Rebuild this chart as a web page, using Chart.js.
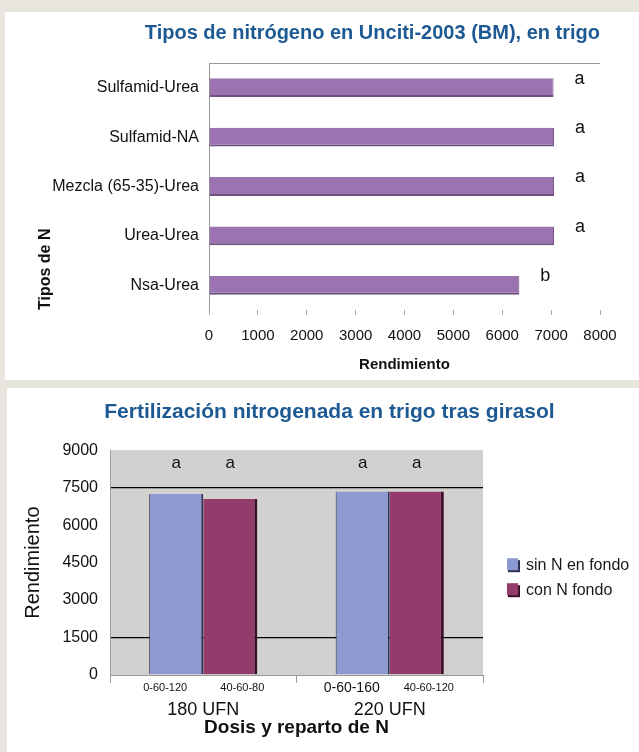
<!DOCTYPE html>
<html>
<head>
<meta charset="utf-8">
<script src="https://cdn.jsdelivr.net/npm/chart.js@4.4.0/dist/chart.umd.min.js"></script>
<style>
body{margin:0;background:#e8e5de;width:639px;height:752px;position:relative;overflow:hidden}
.panel{position:absolute;background:#fff}
#p1{left:5px;top:12px;width:634px;height:368px}
#p2{left:7px;top:388px;width:632px;height:364px}
#c1{position:absolute;left:5px;top:12px}
#c2{position:absolute;left:20px;top:388px}
</style>
</head>
<body>
<div class="panel" id="p1"></div>
<div class="panel" id="p2"></div>
<canvas id="c1" width="634" height="368"></canvas>
<canvas id="c2" width="619" height="364"></canvas>
<script>
// datos grafico 1
let tipos = ['Sulfamid-Urea', 'Sulfamid-NA', 'Mezcla (65-35)-Urea', 'Urea-Urea', 'Nsa-Urea'];
let rendTipos = [7050, 7060, 7060, 7060, 6350];
let letrasTipos = ['a', 'a', 'a', 'a', 'b'];

// datos grafico 2
let dosis = ['180 UFN', '220 UFN'];
let repartoSin = ['0-60-120', '0-60-160'];
let repartoCon = ['40-60-80', '40-60-120'];
let sinFondo = [7250, 7350];
let conFondo = [7050, 7350];
let letrasSin = ['a', 'a'];
let letrasCon = ['a', 'a'];

let fuente = '"Liberation Sans", Arial, sans-serif';
Chart.defaults.font.family = fuente;
Chart.defaults.color = '#1a1a1a';

// linea gris arriba del area
const lineaSup = {
    id: 'lineaSup',
    afterDraw(c) {
        let a = c.chartArea, ctx = c.ctx;
        ctx.save();
        ctx.strokeStyle = '#9a9a9a';
        ctx.lineWidth = 1;
        ctx.beginPath();
        ctx.moveTo(a.left, a.top + 0.5);
        ctx.lineTo(a.right, a.top + 0.5);
        ctx.stroke();
        ctx.restore();
    }
};

const letras1 = {
    id: 'letras1',
    afterDatasetsDraw(c) {
        let ctx = c.ctx;
        ctx.save();
        ctx.font = '18px ' + fuente;
        ctx.fillStyle = '#111';
        ctx.textAlign = 'center';
        ctx.textBaseline = 'middle';
        c.getDatasetMeta(0).data.forEach((el, i) => {
            ctx.fillText(letrasTipos[i], el.x + 26, el.y - 9);
        });
        ctx.restore();
    }
};

new Chart(document.getElementById('c1'), {
    type: 'bar',
    data: {
        labels: tipos,
        datasets: [{
            label: 'Rendimiento',
            data: rendTipos,
            backgroundColor: '#9b73b1',
            borderColor: '#6d4f80',
            borderWidth: {top: 0, right: 1, bottom: 2, left: 0},
            barPercentage: 0.38,
            categoryPercentage: 1
        }]
    },
    options: {
        indexAxis: 'y',
        responsive: false,
        animation: false,
        layout: {padding: {left: 0, right: 39, top: 0, bottom: 0}},
        plugins: {
            legend: {display: false},
            tooltip: {enabled: false},
            title: {
                display: true,
                text: 'Tipos de nitrógeno en Unciti-2003 (BM), en trigo',
                align: 'end',
                color: '#1d5a94',
                font: {size: 20, weight: 'bold'},
                padding: {top: 9, bottom: 18}
            }
        },
        scales: {
            x: {
                min: 0,
                max: 8000,
                ticks: {stepSize: 1000, font: {size: 15}, padding: 12, color: '#111', callback: v => v},
                grid: {drawOnChartArea: false, tickLength: 5, color: '#aaa'},
                border: {display: false},
                title: {display: true, text: 'Rendimiento', font: {size: 15, weight: 'bold'}, color: '#111', padding: {top: 12, bottom: 6}},
                afterFit(a) { a.height = 70; }
            },
            y: {
                ticks: {font: {size: 16}, padding: 10, color: '#111'},
                grid: {display: false, drawTicks: false},
                border: {display: true, color: '#999'},
                title: {display: true, text: 'Tipos de N', align: 'start', font: {size: 16, weight: 'bold'}, color: '#111', padding: {top: 31, bottom: 0}},
                afterFit(a) { a.width = 204; }
            }
        }
    },
    plugins: [lineaSup, letras1]
});

// grafico 2
const fondoGris = {
    id: 'fondoGris',
    beforeDraw(c) {
        let a = c.chartArea;
        c.ctx.save();
        c.ctx.fillStyle = '#d3d1cf';
        c.ctx.fillRect(a.left, a.top, a.right - a.left, a.bottom - a.top);
        c.ctx.restore();
    }
};

let tamSub = [[11, 11], [14, 11]];
const extras2 = {
    id: 'extras2',
    afterDraw(c) {
        let ctx = c.ctx, a = c.chartArea;
        let m0 = c.getDatasetMeta(0).data, m1 = c.getDatasetMeta(1).data;
        ctx.save();
        ctx.textAlign = 'center';
        ctx.textBaseline = 'middle';
        ctx.fillStyle = '#111';
        // letras
        ctx.font = '17px ' + fuente;
        m0.forEach((el, i) => ctx.fillText(letrasSin[i], el.x, a.top + 13));
        m1.forEach((el, i) => ctx.fillText(letrasCon[i], el.x, a.top + 13));
        // reparto debajo de cada barra
        m0.forEach((el, i) => {
            ctx.font = tamSub[i][0] + 'px ' + fuente;
            ctx.fillText(repartoSin[i], el.x - 11, a.bottom + 13);
        });
        m1.forEach((el, i) => {
            ctx.font = tamSub[i][1] + 'px ' + fuente;
            ctx.fillText(repartoCon[i], el.x + 12, a.bottom + 13);
        });
        // leyenda
        ctx.textAlign = 'left';
        ctx.font = '16px ' + fuente;
        c.data.datasets.forEach((d, i) => {
            let x = a.right + 24, y = a.top + 115 + i * 25;
            ctx.fillStyle = d.borderColor;
            ctx.fillRect(x + 1, y - 5, 12, 12);
            ctx.fillStyle = d.backgroundColor;
            ctx.fillRect(x, y - 7, 11, 12);
            ctx.fillStyle = '#1a1a1a';
            ctx.fillText(d.label, x + 19, y);
        });
        ctx.restore();
    }
};

new Chart(document.getElementById('c2'), {
    type: 'bar',
    data: {
        labels: dosis,
        datasets: [{
            label: 'sin N en fondo',
            data: sinFondo,
            backgroundColor: '#8d9ad2',
            borderColor: '#2e3152',
            borderWidth: {top: 0, right: 2, bottom: 0, left: 1}
        }, {
            label: 'con N fondo',
            data: conFondo,
            backgroundColor: '#933b6b',
            borderColor: '#3a0f28',
            borderWidth: {top: 0, right: 3, bottom: 0, left: 0}
        }]
    },
    options: {
        responsive: false,
        animation: false,
        datasets: {bar: {barPercentage: 1, categoryPercentage: 0.58}},
        layout: {padding: 0},
        plugins: {
            legend: {display: false},
            tooltip: {enabled: false},
            title: {
                display: true,
                text: 'Fertilización nitrogenada en trigo tras girasol',
                color: '#1d5a94',
                font: {size: 21, weight: 'bold'},
                padding: {top: 12, bottom: 25}
            }
        },
        scales: {
            x: {
                grid: {drawOnChartArea: false, tickLength: 8, color: '#999'},
                border: {color: '#999'},
                ticks: {font: {size: 18}, padding: 16, color: '#111'},
                title: {display: true, text: 'Dosis y reparto de N', font: {size: 19, weight: 'bold'}, color: '#111', padding: {top: 0, bottom: 13}},
                afterFit(a) { a.height = 77; }
            },
            y: {
                min: 0,
                max: 9000,
                ticks: {stepSize: 1500, font: {size: 16}, padding: 12, color: '#111', callback: v => v},
                grid: {
                    drawTicks: false,
                    lineWidth: 1.3,
                    color: ctx => (ctx.tick && (ctx.tick.value === 1500 || ctx.tick.value === 7500)) ? '#000' : 'rgba(0,0,0,0)'
                },
                border: {color: '#a09e9c'},
                title: {display: true, text: 'Rendimiento', font: {size: 20}, color: '#111', padding: {top: 1, bottom: 0}},
                afterFit(a) { a.width = 90; }
            },
            // espacio a la derecha para la leyenda
            hueco: {
                type: 'linear',
                position: 'right',
                grid: {display: false, drawTicks: false},
                border: {display: false},
                ticks: {display: false},
                afterFit(a) { a.width = 156; }
            }
        }
    },
    plugins: [fondoGris, extras2]
});
</script>
</body>
</html>
